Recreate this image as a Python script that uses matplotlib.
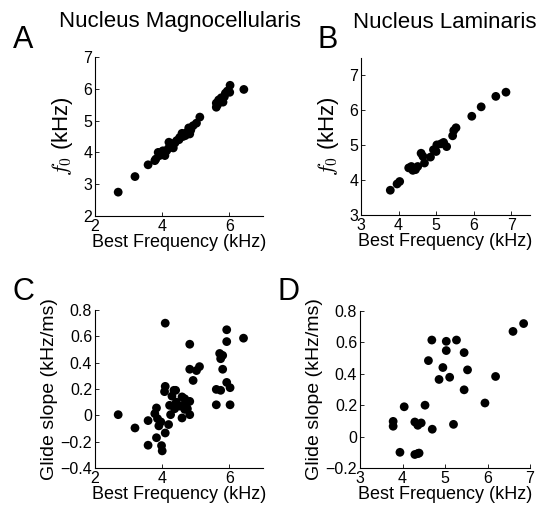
import matplotlib
matplotlib.use("Agg")
import matplotlib.pyplot as plt

plt.rcParams["font.family"] = ["Liberation Sans", "DejaVu Sans"]
plt.rcParams["mathtext.fontset"] = "cm"

# Panel A: nucleus magnocellularis, f0 vs best frequency
nm_bf_a = [2.69, 3.19, 3.58, 3.78, 3.81, 3.88, 3.92, 3.98, 4.02, 4.08,
           4.13, 4.18, 4.2, 4.25, 4.28, 4.33, 4.38, 4.43, 4.5, 4.52,
           4.59, 4.62, 4.69, 4.72, 4.79, 4.82, 4.85, 4.92, 5.02, 5.12,
           5.61, 5.61, 5.65, 5.68, 5.76, 5.81, 5.85, 5.88, 5.94, 6.01,
           6.02, 6.43]
nm_f0 = [2.75, 3.24, 3.61, 3.74, 3.79, 4.0, 3.9, 3.95, 4.05, 3.9,
         4.05, 4.12, 4.32, 4.25, 4.21, 4.14, 4.3, 4.37, 4.4, 4.47,
         4.6, 4.5, 4.53, 4.62, 4.77, 4.58, 4.7, 4.84, 4.92, 5.11,
         5.42, 5.55, 5.5, 5.65, 5.72, 5.58, 5.75, 5.86, 5.93, 5.89,
         6.11, 5.98]

# Panel B: nucleus laminaris, f0 vs best frequency
nl_bf_b = [3.78, 3.96, 4.03, 4.27, 4.34, 4.38, 4.45, 4.51, 4.6, 4.65,
           4.69, 4.85, 4.93, 5.0, 5.02, 5.13, 5.2, 5.28, 5.44, 5.47,
           5.53, 5.95, 6.2, 6.59, 6.86]
nl_f0 = [3.71, 3.89, 3.96, 4.35, 4.39, 4.28, 4.3, 4.39, 4.77, 4.68,
         4.49, 4.66, 4.87, 4.82, 5.01, 5.04, 5.08, 4.96, 5.27, 5.42,
         5.5, 5.83, 6.1, 6.4, 6.52]

# Panel C: nucleus magnocellularis, glide slope vs best frequency
nm_bf_c = [2.69, 3.19, 3.58, 3.58, 3.83, 3.78, 3.86, 3.9, 3.83, 3.96,
           3.98, 4.0, 4.09, 4.09, 4.09, 4.07, 4.19, 4.22, 4.25, 4.29,
           4.35, 4.4, 4.37, 4.42, 4.59, 4.59, 4.62, 4.67, 4.72, 4.75,
           4.82, 4.82, 4.67, 4.52, 4.82, 4.82, 4.92, 5.02, 5.11, 5.61,
           5.61, 5.74, 5.71, 5.8, 5.74, 5.8, 5.92, 5.92, 5.92, 6.02,
           6.02, 6.42]
nm_slope = [0.005, -0.096, -0.04, -0.227, 0.056, 0.013, -0.025, -0.08, -0.17, -0.05,
            -0.23, -0.27, -0.134, 0.70, 0.22, 0.18, -0.07, 0.076, 0.005, 0.146,
            0.19, 0.19, 0.05, 0.10, 0.14, -0.02, 0.076, 0.126, 0.088, 0.05,
            0.106, 0.005, 0.045, 0.07, 0.54, 0.35, 0.265, 0.34, 0.37, 0.197,
            0.08, 0.19, 0.47, 0.455, 0.43, 0.35, 0.65, 0.56, 0.25, 0.21,
            0.08, 0.586]

# Panel D: nucleus laminaris, glide slope vs best frequency
nl_bf_d = [3.78, 3.78, 3.94, 4.04, 4.29, 4.29, 4.36, 4.39, 4.36, 4.44,
           4.53, 4.61, 4.69, 4.7, 4.86, 4.95, 5.03, 5.03, 5.11, 5.2,
           5.27, 5.45, 5.45, 5.53, 5.94, 6.19, 6.6, 6.85]
nl_slope = [0.097, 0.066, -0.10, 0.19, 0.093, -0.114, -0.108, -0.105, 0.072, 0.087,
            0.20, 0.484, 0.615, 0.047, 0.364, 0.44, 0.607, 0.548, 0.378, 0.078,
            0.615, 0.535, 0.298, 0.425, 0.214, 0.383, 0.67, 0.72]

W, H = 542, 508
fig = plt.figure(figsize=(W / 100, H / 100), dpi=100)


def add_panel(l, t, r, b):
    return fig.add_axes([l / W, 1 - b / H, (r - l) / W, (b - t) / H])


def style(ax, xlim, ylim, xticks, yticks, xticklabels=None, yticklabels=None):
    ax.set_xlim(*xlim)
    ax.set_ylim(*ylim)
    ax.set_xticks(xticks)
    ax.set_yticks(yticks)
    if xticklabels is not None:
        ax.set_xticklabels(xticklabels)
    if yticklabels is not None:
        ax.set_yticklabels(yticklabels)
    for side in ("top", "right"):
        ax.spines[side].set_visible(False)
    for side in ("left", "bottom"):
        ax.spines[side].set_linewidth(0.8)
    ax.tick_params(direction="in", length=3, width=0.6, labelsize=11.5, pad=2)
    ax.set_xlabel("Best Frequency (kHz)", fontsize=13, labelpad=0)


dot = dict(s=40, c="black", edgecolors="none")

ax_a = add_panel(95, 57, 263, 216)
ax_a.scatter(nm_bf_a, nm_f0, **dot)
style(ax_a, (2, 7), (2, 7), [2, 4, 6], [2, 3, 4, 5, 6, 7])
ax_a.set_ylabel(r"$f_0$ (kHz)", fontsize=16, labelpad=6)

ax_b = add_panel(361, 58, 530, 215)
ax_b.scatter(nl_bf_b, nl_f0, **dot)
style(ax_b, (3, 7.5), (3, 7.5), [3, 4, 5, 6, 7], [3, 4, 5, 6, 7])
ax_b.set_ylabel(r"$f_0$ (kHz)", fontsize=16, labelpad=6)

ax_c = add_panel(95, 310, 263, 468)
ax_c.scatter(nm_bf_c, nm_slope, **dot)
style(ax_c, (2, 7), (-0.4, 0.8), [2, 4, 6], [-0.4, -0.2, 0, 0.2, 0.4, 0.6, 0.8],
      yticklabels=["\u22120.4", "\u22120.2", "0", "0.2", "0.4", "0.6", "0.8"])
ax_c.set_ylabel("Glide slope (kHz/ms)", fontsize=14, labelpad=2)

ax_d = add_panel(360, 311, 530, 468)
ax_d.scatter(nl_bf_d, nl_slope, **dot)
style(ax_d, (3, 7), (-0.2, 0.8), [3, 4, 5, 6, 7], [-0.2, 0, 0.2, 0.4, 0.6, 0.8],
      yticklabels=["\u22120.2", "0", "0.2", "0.4", "0.6", "0.8"])
ax_d.set_ylabel("Glide slope (kHz/ms)", fontsize=14, labelpad=2)

fig.text(180 / W, 1 - 22 / H, "Nucleus Magnocellularis", fontsize=16,
         ha="center", va="center")
fig.text(445 / W, 1 - 22 / H, "Nucleus Laminaris", fontsize=16,
         ha="center", va="center")
for letter, x, y in (("A", 13, 40), ("B", 317, 40), ("C", 13, 292), ("D", 277, 292)):
    fig.text(x / W, 1 - y / H, letter, fontsize=22, ha="left", va="center")

fig.savefig("out.png", dpi=100)
